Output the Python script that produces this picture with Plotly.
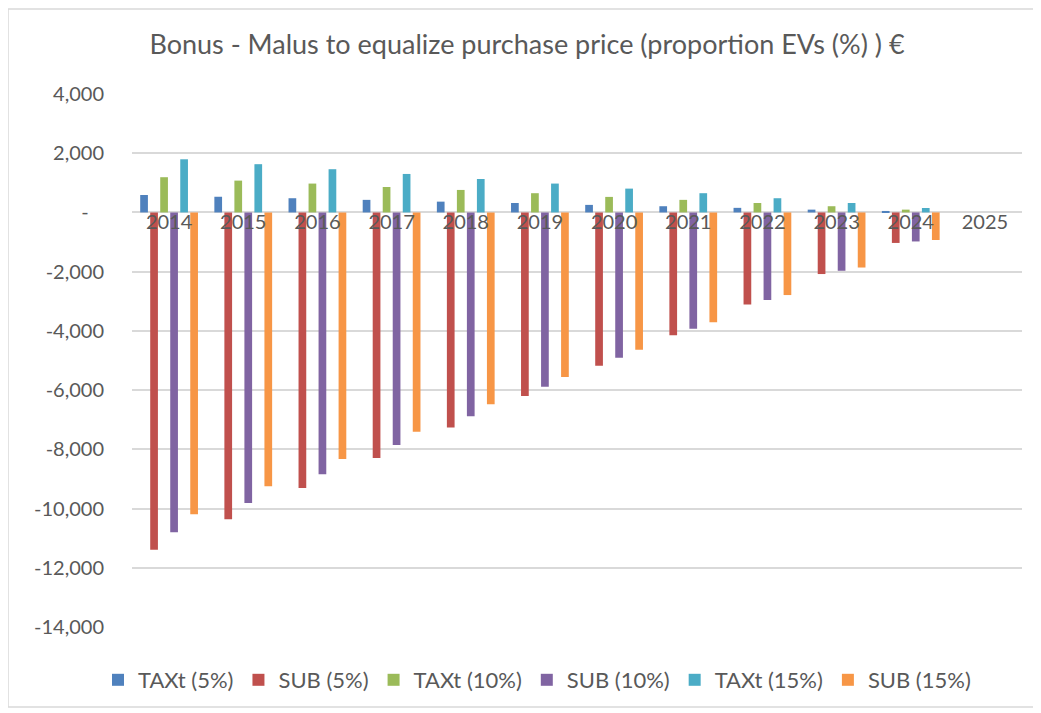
import plotly.graph_objects as go

years = ["2014", "2015", "2016", "2017", "2018", "2019", "2020", "2021", "2022", "2023", "2024", "2025"]

taxt_5 = [590, 530, 480, 425, 365, 320, 255, 210, 155, 95, 50, 0]
sub_5 = [-11390, -10360, -9310, -8290, -7260, -6200, -5180, -4150, -3110, -2080, -1030, 0]
taxt_10 = [1190, 1075, 975, 860, 760, 650, 525, 425, 320, 210, 95, 0]
sub_10 = [-10800, -9810, -8840, -7850, -6880, -5890, -4910, -3930, -2960, -1970, -980, 0]
taxt_15 = [1795, 1630, 1460, 1300, 1130, 975, 805, 650, 480, 320, 150, 0]
sub_15 = [-10190, -9250, -8330, -7410, -6480, -5560, -4640, -3710, -2790, -1860, -930, 0]

series_names = ["TAXt (5%)", "SUB (5%)", "TAXt (10%)", "SUB (10%)", "TAXt (15%)", "SUB (15%)"]
series_values = [taxt_5, sub_5, taxt_10, sub_10, taxt_15, sub_15]
series_colors = ["#4F81BD", "#C0504D", "#9BBB59", "#8064A2", "#4BACC6", "#F79646"]

y_tickvals = [4000, 2000, 0, -2000, -4000, -6000, -8000, -10000, -12000, -14000]
y_ticktext = ["4,000", "2,000", "-\u00a0\u00a0\u00a0", "-2,000", "-4,000", "-6,000",
              "-8,000", "-10,000", "-12,000", "-14,000"]

y_min, y_max = -14000, 4000

# page body has an 8px margin; figure sized/placed accordingly
W, H = 1033, 705
ML, MR, MT, MB = 124, 19, 86, 86
PW, PH = W - ML - MR, H - MT - MB

fig = go.Figure()
for name, vals, col in zip(series_names, series_values, series_colors):
    fig.add_trace(go.Bar(x=years, y=vals, name=name, marker=dict(color=col, line=dict(width=0))))

font_family = "Lato, 'Open Sans', sans-serif"
grey = "#595959"

zero_frac = (0 - y_min) / (y_max - y_min)

fig.update_layout(
    width=W, height=H,
    margin=dict(l=ML, r=MR, t=MT, b=MB),
    paper_bgcolor="white", plot_bgcolor="white",
    barmode="group", bargap=0.19, bargroupgap=0.23,
    title=dict(text="Bonus - Malus to equalize purchase price (proportion EVs (%) ) €",
               x=0.5024, xanchor="center", y=1 - 37 / H, yanchor="middle",
               font=dict(family=font_family, size=27, color=grey)),
    font=dict(family=font_family, color=grey, size=20),
    showlegend=True,
    legend=dict(orientation="h", x=(529 - ML) / PW, xanchor="center", y=(619 - 672) / PH,
                yanchor="middle",
                font=dict(size=22, color=grey), itemwidth=30,
                traceorder="normal"),
    xaxis=dict(type="category", anchor="free",
               position=zero_frac + 4 / PH,
               showline=False, showgrid=False, ticks="",
               tickfont=dict(size=20, color=grey)),
    yaxis=dict(range=[y_min, y_max], tickvals=y_tickvals, ticktext=y_ticktext,
               showgrid=True, gridcolor="#D9D9D9", gridwidth=1.5,
               zeroline=False, showline=False, ticks="",
               ticklabelstandoff=27, tickfont=dict(size=20, color=grey)),
    shapes=[dict(type="rect", xref="paper", yref="paper",
                 x0=(0 - ML) / PW, x1=(1029 - ML) / PW,
                 y0=(619 - 699) / PH, y1=(619 - 1) / PH,
                 line=dict(color="#D9D9D9", width=1.5), fillcolor="rgba(0,0,0,0)", layer="below")],
)

fig.write_html("out.html")
